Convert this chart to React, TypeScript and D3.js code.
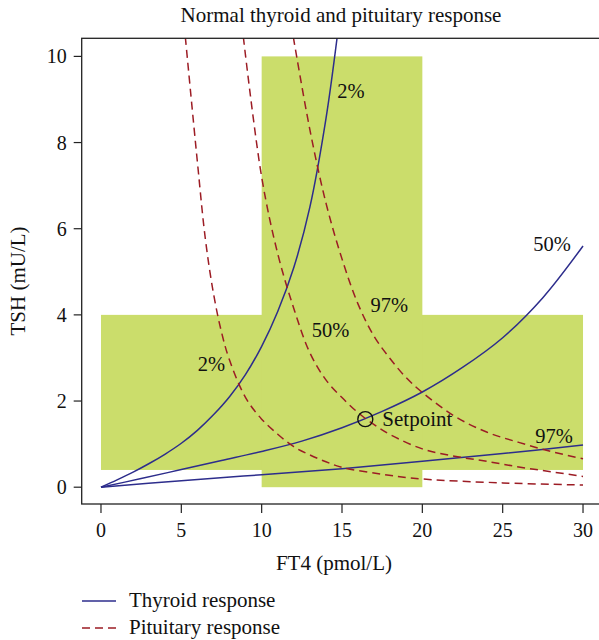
import React from "react";
import * as d3 from "d3";

// FT4 (pmol/L) vs TSH (mU/L)
const thyroid2X = [0, 1, 2, 3, 4, 5, 6, 7, 8, 9, 10, 11, 12, 13, 14, 14.7];
const thyroid2Y = [0, 0.17, 0.35, 0.55, 0.77, 1.02, 1.32, 1.68, 2.1, 2.62, 3.27, 4.08, 5.1, 6.5, 8.55, 10.45];

const thyroid50X = [0, 2.5, 5, 7.5, 10, 12.5, 15, 17.5, 20, 22.5, 25, 27.5, 30];
const thyroid50Y = [0, 0.2, 0.41, 0.62, 0.83, 1.07, 1.38, 1.76, 2.21, 2.78, 3.47, 4.4, 5.6];

const thyroid97X = [0, 5, 10, 15, 20, 25, 30];
const thyroid97Y = [0, 0.15, 0.29, 0.43, 0.6, 0.78, 0.98];

const pituitary2X = [5.25, 6, 6.5, 7, 7.5, 8, 9, 10, 11, 12, 13, 14, 15, 17.5, 20, 25, 30];
const pituitary2Y = [10.45, 7.55, 5.75, 4.5, 3.6, 2.95, 2.08, 1.58, 1.23, 0.94, 0.75, 0.59, 0.46, 0.3, 0.19, 0.1, 0.05];

const pituitary50X = [8.86, 10, 11, 12, 13, 14, 15, 16, 17, 18, 20, 22, 24, 26, 28, 30];
const pituitary50Y = [10.45, 7.2, 5.42, 4.15, 3.12, 2.49, 2.08, 1.73, 1.45, 1.22, 0.89, 0.72, 0.6, 0.47, 0.36, 0.25];

const pituitary97X = [11.97, 13, 14, 15, 16, 17, 18, 19, 20, 22, 24, 26, 28, 30];
const pituitary97Y = [10.45, 8.3, 6.6, 5.3, 4.25, 3.5, 2.98, 2.54, 2.2, 1.65, 1.28, 1.04, 0.83, 0.66];

// reference ranges (green cross)
const ft4Ref = [10, 20];
const tshRef = [0.4, 4];
const ft4Span = [0, 30];
const tshSpan = [0, 10];

const setpoint = { ft4: 16.45, tsh: 1.58 };

const labelText = ["2%", "50%", "97%", "50%", "2%", "97%"];
const labelX = [15.56, 28.07, 17.94, 14.28, 6.88, 28.19];
const labelY = [9.21, 5.65, 4.23, 3.65, 2.87, 1.2];

const xTicks = [0, 5, 10, 15, 20, 25, 30];
const yTicks = [0, 2, 4, 6, 8, 10];

const BLUE = "#2d2d8c";
const RED = "#9c1c24";
const GREEN = "#cbdd6b";
const FONT = "Liberation Serif, Times New Roman, serif";

const zip = (xs: number[], ys: number[]) => xs.map((v, i) => [v, ys[i]] as [number, number]);

export default function App() {
  const W = 599;
  const H = 640;
  const x = d3.scaleLinear().domain([-1.2, 31.2]).range([81.7, 602.3]);
  const y = d3.scaleLinear().domain([-0.39, 10.42]).range([504, 38.3]);

  const line = d3
    .line<[number, number]>()
    .x((d) => x(d[0]))
    .y((d) => y(d[1]))
    .curve(d3.curveCatmullRom.alpha(0.5));

  const thyroid = [zip(thyroid2X, thyroid2Y), zip(thyroid50X, thyroid50Y), zip(thyroid97X, thyroid97Y)];
  const pituitary = [zip(pituitary2X, pituitary2Y), zip(pituitary50X, pituitary50Y), zip(pituitary97X, pituitary97Y)];

  const [x0, x1] = x.range();
  const [y0, y1] = y.range();

  return (
    <>
      <style>{`body{margin:0}`}</style>
      <svg width={W} height={H} style={{ display: "block" }} fontFamily={FONT}>
        <defs>
          <clipPath id="plot-clip">
            <rect x={x0} y={y1} width={x1 - x0} height={y0 - y1} />
          </clipPath>
        </defs>

        <text x={341} y={22} textAnchor="middle" fontSize={21} fill="#111">
          Normal thyroid and pituitary response
        </text>

        {/* reference ranges */}
        <g fill={GREEN}>
          <rect x={x(ft4Span[0])} y={y(tshRef[1])} width={x(ft4Span[1]) - x(ft4Span[0])} height={y(tshRef[0]) - y(tshRef[1])} />
          <rect x={x(ft4Ref[0])} y={y(tshSpan[1])} width={x(ft4Ref[1]) - x(ft4Ref[0])} height={y(tshSpan[0]) - y(tshSpan[1])} />
        </g>

        <g clipPath="url(#plot-clip)" fill="none" strokeWidth={1.5}>
          {thyroid.map((d, i) => (
            <path key={"t" + i} d={line(d) ?? ""} stroke={BLUE} />
          ))}
          {pituitary.map((d, i) => (
            <path key={"p" + i} d={line(d) ?? ""} stroke={RED} strokeDasharray="8,5" />
          ))}
        </g>

        <circle cx={x(setpoint.ft4)} cy={y(setpoint.tsh)} r={7.5} fill="none" stroke="#111" strokeWidth={1.4} />
        <text x={x(setpoint.ft4) + 17} y={y(setpoint.tsh) + 7} fontSize={21} fill="#111">
          Setpoint
        </text>

        {labelText.map((t, i) => (
          <text key={i} x={x(labelX[i])} y={y(labelY[i])} dy="0.35em" textAnchor="middle" fontSize={20.5} fill="#111">
            {t}
          </text>
        ))}

        {/* frame */}
        <rect x={x0} y={y1} width={x1 - x0} height={y0 - y1} fill="none" stroke="#222" strokeWidth={1.3} />

        {/* x axis */}
        <g>
          {xTicks.map((t) => (
            <g key={t} transform={`translate(${x(t)},${y0})`}>
              <line y2={9} stroke="#222" strokeWidth={1.2} />
              <text y={33} textAnchor="middle" fontSize={20} fill="#111">
                {t}
              </text>
            </g>
          ))}
          <text x={x(14.5)} y={570} textAnchor="middle" fontSize={21} fill="#111">
            FT4 (pmol/L)
          </text>
        </g>

        {/* y axis */}
        <g>
          {yTicks.map((t) => (
            <g key={t} transform={`translate(${x0},${y(t)})`}>
              <line x2={-8} stroke="#222" strokeWidth={1.2} />
              <text x={-15} dy="0.35em" textAnchor="end" fontSize={20} fill="#111">
                {t}
              </text>
            </g>
          ))}
          <text transform="translate(25,281) rotate(-90)" textAnchor="middle" fontSize={21} fill="#111">
            TSH (mU/L)
          </text>
        </g>

        {/* legend */}
        <g fontSize={21} fill="#111">
          <line x1={82} x2={116} y1={601} y2={601} stroke={BLUE} strokeWidth={1.5} />
          <text x={129} y={607}>Thyroid response</text>
          <line x1={82} x2={116} y1={628} y2={628} stroke={RED} strokeWidth={1.5} strokeDasharray="8,5" />
          <text x={129} y={634}>Pituitary response</text>
        </g>
      </svg>
    </>
  );
}
